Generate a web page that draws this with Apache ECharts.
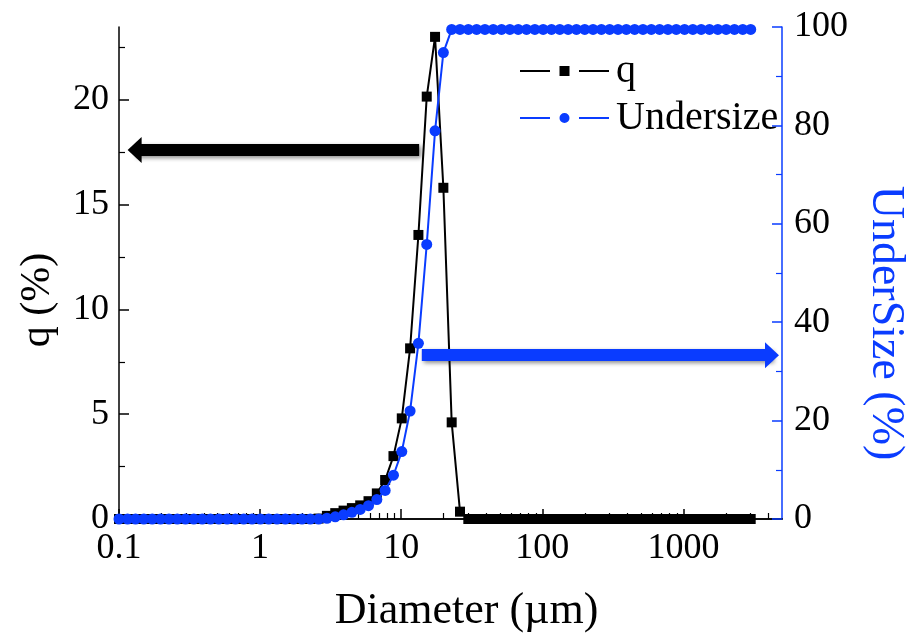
<!DOCTYPE html>
<html>
<head>
<meta charset="utf-8">
<script src="https://cdn.jsdelivr.net/npm/echarts@6/dist/echarts.min.js"></script>
<style>html,body{margin:0;padding:0;background:#fff;}#c{width:908px;height:637px;}</style>
</head>
<body>
<div id="c"></div>
<script>
// Particle diameters (µm)
const diameters = [0.1, 0.115, 0.131, 0.15, 0.172, 0.197, 0.226, 0.259, 0.296, 0.339, 0.389, 0.445, 0.51, 0.584, 0.669, 0.766, 0.877,
  1.005, 1.151, 1.318, 1.51, 1.729, 1.981, 2.269, 2.599, 2.976, 3.409, 3.905, 4.472, 5.122, 5.867, 6.72, 7.697, 8.816,
  10.097, 11.565, 13.246, 15.172, 17.377, 19.904, 22.797, 26.111, 29.907, 34.255, 39.234, 44.938, 51.471, 58.953, 67.523, 77.34, 88.583,
  101.46, 116.21, 133.103, 152.453, 174.616, 200, 229.075, 262.376, 300.518, 344.206, 394.244, 451.556, 517.2, 592.387, 678.504, 777.141, 890.116,
  1019.515, 1167.725, 1337.481, 1531.914, 1754.613, 2009.687, 2301.841, 2636.467, 3000];
// q (%) frequency
const qValues = [0,0,0,0,0,0,0,0,0,0,0,0,0,0,0,0,0,
  0,0,0,0,0,0,0,0.02,0.15,0.28,0.40,0.52,0.65,0.85,1.22,1.86,3.0,
  4.8,8.14,13.55,20.15,23.0,15.8,4.61,0.35,0,0,0,0,0,0,0,0,0,
  0,0,0,0,0,0,0,0,0,0,0,0,0,0,0,0,0,
  0,0,0,0,0,0,0,0,0];
// Undersize (%) cumulative
const undersizeValues = [0,0,0,0,0,0,0,0,0,0,0,0,0,0,0,0,0,
  0,0,0,0,0,0,0,0,0.15,0.45,0.85,1.35,1.95,2.7,3.95,5.8,8.9,
  13.7,21.95,35.7,55.8,78.9,94.8,99.5,99.5,99.5,99.5,99.5,99.5,99.5,99.5,99.5,99.5,99.5,
  99.5,99.5,99.5,99.5,99.5,99.5,99.5,99.5,99.5,99.5,99.5,99.5,99.5,99.5,99.5,99.5,99.5,
  99.5,99.5,99.5,99.5,99.5,99.5,99.5,99.5,99.5];
// tick labels / values
const xMajorTicks = [0.1, 1, 10, 100, 1000];
const xMinorTicks = [0.2,0.3,0.4,0.5,0.6,0.7,0.8,0.9, 2,3,4,5,6,7,8,9, 20,30,40,50,60,70,80,90, 200,300,400,500,600,700,800,900, 2000,3000,4000];
const qMajorTicks = [0, 5, 10, 15, 20];
const qMinorTicks = [2.5, 7.5, 12.5, 17.5, 22.5];
// annotation arrows [from, to] in data coordinates
const arrowQ = [[13.4, 17.6], [0.129, 17.6]];
const arrowU = [[14.0, 33.3], [4246, 33.3]];

const BLUE = '#0a3cff';
const FONT = 'Liberation Serif';
// legend icons: line - marker - line (with gaps)
const ICON_Q = 'path://M0,5H30V7H0Z M39.5,1H49.5V11H39.5Z M59,5H89V7H59Z';
const ICON_U = 'path://M0,5H30V7H0Z M49.5,6A5,5 0 1 1 39.5,6A5,5 0 1 1 49.5,6Z M59,5H89V7H59Z';

const chart = echarts.init(document.getElementById('c'), null, {renderer: 'canvas'});
const qData = diameters.map((d, i) => [d, qValues[i]]);
const uData = diameters.map((d, i) => [d, undersizeValues[i]]);

chart.setOption({
  animation: false,
  backgroundColor: '#fff',
  grid: {left: 119, right: 126, top: 27, bottom: 118, containLabel: false, outerBoundsMode: 'none'},
  legend: {
    orient: 'vertical', left: 515, top: 46, itemWidth: 89, itemHeight: 10, itemGap: 7,
    textStyle: {fontFamily: FONT, fontSize: 40, color: '#000', padding: [0, 0, 0, 2]},
    data: [{name: 'q', icon: ICON_Q}, {name: 'Undersize', icon: ICON_U}]
  },
  xAxis: [
    {
      type: 'log', logBase: 10, min: 0.1, max: 5000, position: 'bottom',
      name: 'Diameter (µm)', nameLocation: 'middle', nameGap: 70,
      nameTextStyle: {fontFamily: FONT, fontSize: 44, color: '#000', padding: [0, 0, 0, 32]},
      axisLine: {lineStyle: {color: '#000', width: 1.5}},
      axisTick: {inside: true, length: 10, customValues: xMajorTicks, lineStyle: {color: '#000', width: 1.5}},
      axisLabel: {customValues: xMajorTicks, fontFamily: FONT, fontSize: 36, color: '#000', margin: 12,
        formatter: v => String(v)},
      splitLine: {show: false}
    },
    {
      type: 'log', logBase: 10, min: 0.1, max: 5000, position: 'bottom',
      axisLine: {show: false},
      axisTick: {inside: true, length: 6, customValues: xMinorTicks, lineStyle: {color: '#000', width: 1.2}},
      axisLabel: {show: false},
      splitLine: {show: false}
    },
    {
      type: 'log', logBase: 10, min: 0.1, max: 5000, position: 'top',
      axisLine: {lineStyle: {color: '#000', width: 1.5}},
      axisTick: {show: false}, axisLabel: {show: false}, splitLine: {show: false}
    }
  ],
  yAxis: [
    {
      type: 'value', min: 0, max: 23.47, position: 'left',
      name: 'q (%)', nameLocation: 'middle', nameGap: 60,
      nameTextStyle: {fontFamily: FONT, fontSize: 42, color: '#000', padding: [0, 54, 0, 0]},
      axisLine: {show: true, lineStyle: {color: '#000', width: 1.5}},
      axisTick: {show: true, inside: true, length: 10, customValues: qMajorTicks, lineStyle: {color: '#000', width: 1.5}},
      axisLabel: {customValues: qMajorTicks, fontFamily: FONT, fontSize: 36, color: '#000', margin: 10},
      splitLine: {show: false}
    },
    {
      type: 'value', min: 0, max: 100, interval: 20, position: 'right',
      name: 'UnderSize (%)', nameLocation: 'middle', nameGap: 80, nameRotate: -90,
      nameTextStyle: {fontFamily: FONT, fontSize: 46, color: BLUE, padding: [0, 0, 0, 100]},
      axisLine: {show: true, lineStyle: {color: BLUE, width: 1.5}},
      axisTick: {show: true, inside: true, length: 10, lineStyle: {color: BLUE, width: 1.5}},
      minorTick: {show: true, splitNumber: 2, length: 6, lineStyle: {color: BLUE, width: 1.2}},
      axisLabel: {fontFamily: FONT, fontSize: 36, color: '#000', margin: 12},
      splitLine: {show: false}
    },
    {
      type: 'value', min: 0, max: 23.47, position: 'left',
      axisLine: {show: false},
      axisTick: {show: true, inside: true, length: 6, customValues: qMinorTicks, lineStyle: {color: '#000', width: 1.2}},
      axisLabel: {show: false},
      splitLine: {show: false}
    }
  ],
  series: [
    {
      name: 'q', type: 'line', xAxisIndex: 0, yAxisIndex: 0, data: qData,
      symbol: 'rect', symbolSize: 10, showAllSymbol: true,
      itemStyle: {color: '#000'}, lineStyle: {color: '#000', width: 2}, z: 3,
      markLine: {
        silent: true, animation: false, symbol: ['none', 'triangle'], symbolSize: [26, 14],
        label: {show: false}, emphasis: {disabled: true},
        lineStyle: {color: '#000', width: 12, type: 'solid', shadowBlur: 4, shadowColor: 'rgba(0,0,0,0.45)', shadowOffsetX: 2, shadowOffsetY: 2},
        data: [[{coord: arrowQ[0]}, {coord: arrowQ[1]}]]
      }
    },
    {
      name: 'Undersize', type: 'line', xAxisIndex: 0, yAxisIndex: 1, data: uData,
      symbol: 'circle', symbolSize: 11, showAllSymbol: true,
      itemStyle: {color: BLUE}, lineStyle: {color: BLUE, width: 2}, z: 4,
      markLine: {
        silent: true, animation: false, symbol: ['none', 'triangle'], symbolSize: [26, 14],
        label: {show: false}, emphasis: {disabled: true},
        lineStyle: {color: BLUE, width: 12, type: 'solid', shadowBlur: 4, shadowColor: 'rgba(0,0,0,0.45)', shadowOffsetX: 2, shadowOffsetY: 2},
        data: [[{coord: arrowU[0]}, {coord: arrowU[1]}]]
      }
    }
  ]
});
</script>
</body>
</html>
